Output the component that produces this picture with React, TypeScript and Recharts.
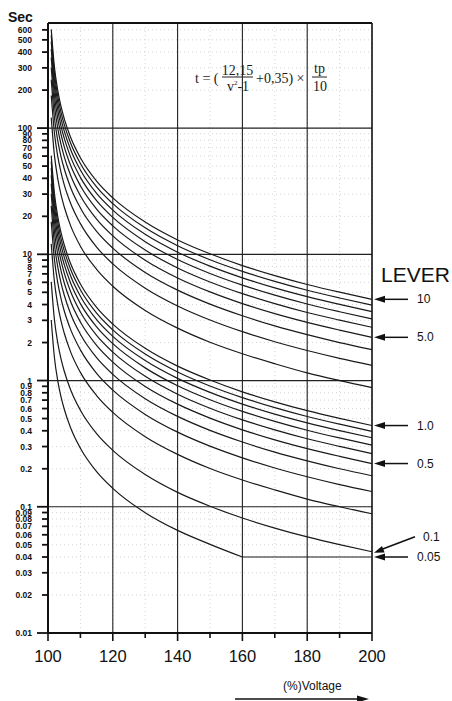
import React from 'react'
import {
  LineChart,
  Line,
  XAxis,
  YAxis,
  CartesianGrid,
  ReferenceLine,
  ReferenceDot,
} from 'recharts'

// voltage in % of setting
const voltage = [101, 102, 103, 104, 105, 107, 110, 115, 120, 130, 140, 150, 160, 170, 180, 190, 200]

// operating time (s) per lever position
const lever10 = [605, 301, 200, 149, 119, 84.2, 58.2, 38.0, 28.0, 18.0, 13.0, 10.1, 8.14, 6.78, 5.77, 5.01, 4.4]
const lever9 = [544, 271, 180, 134, 107, 75.8, 52.4, 34.2, 25.2, 16.2, 11.7, 9.06, 7.33, 6.1, 5.19, 4.51, 3.96]
const lever8 = [484, 241, 160, 119, 95.1, 67.4, 46.6, 30.4, 22.4, 14.4, 10.4, 8.06, 6.51, 5.42, 4.62, 4.01, 3.52]
const lever7 = [423, 211, 140, 104, 83.2, 58.9, 40.7, 26.6, 19.6, 12.6, 9.1, 7.05, 5.7, 4.75, 4.04, 3.51, 3.08]
const lever6 = [363, 181, 120, 89.5, 71.3, 50.5, 34.9, 22.8, 16.8, 10.8, 7.8, 6.04, 4.88, 4.07, 3.46, 3.01, 2.64]
const lever5 = [302, 151, 100, 74.6, 59.5, 42.1, 29.1, 19.0, 14.0, 8.98, 6.5, 5.04, 4.07, 3.39, 2.89, 2.51, 2.2]
const lever4 = [242, 120, 80.0, 59.7, 47.6, 33.7, 23.3, 15.2, 11.2, 7.18, 5.2, 4.03, 3.26, 2.71, 2.31, 2.0, 1.76]
const lever3 = [181, 90.3, 60.0, 44.8, 35.7, 25.3, 17.5, 11.4, 8.39, 5.39, 3.9, 3.02, 2.44, 2.03, 1.73, 1.5, 1.32]
const lever2 = [121, 60.2, 40.0, 29.8, 23.8, 16.8, 11.6, 7.6, 5.59, 3.59, 2.6, 2.01, 1.63, 1.36, 1.15, 1.0, 0.88]
const lever1 = [60.5, 30.1, 20.0, 14.9, 11.9, 8.42, 5.82, 3.8, 2.8, 1.8, 1.3, 1.01, 0.814, 0.678, 0.577, 0.501, 0.44]
const lever09 = [54.4, 27.1, 18.0, 13.4, 10.7, 7.58, 5.24, 3.42, 2.52, 1.62, 1.17, 0.906, 0.733, 0.61, 0.519, 0.451, 0.396]
const lever08 = [48.4, 24.1, 16.0, 11.9, 9.51, 6.74, 4.66, 3.04, 2.24, 1.44, 1.04, 0.806, 0.651, 0.542, 0.462, 0.401, 0.352]
const lever07 = [42.3, 21.1, 14.0, 10.4, 8.32, 5.89, 4.07, 2.66, 1.96, 1.26, 0.91, 0.705, 0.57, 0.475, 0.404, 0.351, 0.308]
const lever06 = [36.3, 18.1, 12.0, 8.95, 7.13, 5.05, 3.49, 2.28, 1.68, 1.08, 0.78, 0.604, 0.488, 0.407, 0.346, 0.301, 0.264]
const lever05 = [30.2, 15.1, 10.0, 7.46, 5.95, 4.21, 2.91, 1.9, 1.4, 0.898, 0.65, 0.504, 0.407, 0.339, 0.289, 0.251, 0.22]
const lever04 = [24.2, 12.0, 8.0, 5.97, 4.76, 3.37, 2.33, 1.52, 1.12, 0.718, 0.52, 0.403, 0.326, 0.271, 0.231, 0.2, 0.176]
const lever03 = [18.1, 9.03, 6.0, 4.48, 3.57, 2.53, 1.75, 1.14, 0.839, 0.539, 0.39, 0.302, 0.244, 0.203, 0.173, 0.15, 0.132]
const lever02 = [12.1, 6.02, 4.0, 2.98, 2.38, 1.68, 1.16, 0.76, 0.559, 0.359, 0.26, 0.201, 0.163, 0.136, 0.115, 0.1, 0.088]
const lever01 = [6.05, 3.01, 2.0, 1.49, 1.19, 0.842, 0.582, 0.38, 0.28, 0.18, 0.13, 0.101, 0.0814, 0.0678, 0.0577, 0.0501, 0.044]
// lever 0.05: curved part down to 160 %, then held at the 0.04 s minimum
const lever005 = [3.02, 1.51, 1.0, 0.746, 0.595, 0.421, 0.291, 0.19, 0.14, 0.0898, 0.065, 0.0504, 0.04, null, null, null, null]
const minTime = [null, null, null, null, null, null, null, null, null, null, null, null, 0.04, 0.04, 0.04, 0.04, 0.04]

const series = [
  lever10, lever9, lever8, lever7, lever6, lever5, lever4, lever3, lever2, lever1,
  lever09, lever08, lever07, lever06, lever05, lever04, lever03, lever02, lever01, lever005,
]

const arrowLevers = [
  { label: '10', values: lever10 },
  { label: '5.0', values: lever5 },
  { label: '1.0', values: lever1 },
  { label: '0.5', values: lever05 },
  { label: '0.1', values: lever01, slant: true },
  { label: '0.05', values: minTime },
]

const xTicks = [100, 110, 120, 130, 140, 150, 160, 170, 180, 190, 200]
const xMajor = [120, 140, 160, 180]
const yTicks = [
  600, 500, 400, 300, 200, 100, 90, 80, 70, 60, 50, 40, 30, 20,
  10, 9, 8, 7, 6, 5, 4, 3, 2, 1, 0.9, 0.8, 0.7, 0.6, 0.5, 0.4, 0.3, 0.2,
  0.1, 0.09, 0.08, 0.07, 0.06, 0.05, 0.04, 0.03, 0.02, 0.01,
]
const yMajor = [100, 10, 1, 0.1]

const rows = voltage.map((v, i) => {
  const row: Record<string, number | null> = { v, floor: minTime[i] }
  series.forEach((s, k) => {
    row[`s${k}`] = s[i]
  })
  return row
})

const FONT = '"Liberation Sans", Arial, sans-serif'
const SERIF = '"Liberation Serif", "Times New Roman", serif'

function XTick(props: any) {
  const { x, y, payload } = props
  const big = payload.value % 20 === 0
  return (
    <g>
      <line x1={x} x2={x} y1={y} y2={y + (big ? 8 : 5)} stroke="#111" strokeWidth={1.6} />
      {big && (
        <text x={x} y={y + 29} textAnchor="middle" fontSize={16.5} fontFamily={FONT} fill="#111">
          {payload.value}
        </text>
      )}
    </g>
  )
}

function YTick(props: any) {
  const { x, y, payload } = props
  const lg = Math.log10(payload.value)
  const decade = Math.abs(lg - Math.round(lg)) < 1e-9
  return (
    <g>
      <line x1={x - (decade ? 11 : 6)} x2={x} y1={y} y2={y} stroke="#111" strokeWidth={1.8} />
      <text x={x - 16} y={y} dy="0.35em" textAnchor="end" fontSize={8.5} fontWeight="bold" fontFamily={FONT} fill="#111">
        {String(payload.value)}
      </text>
    </g>
  )
}

function LeverArrow({ cx, cy, label, slant }: { cx: number; cy: number; label: string; slant?: boolean }) {
  if (slant) {
    return (
      <g>
        <line x1={cx + 10} y1={cy - 2.5} x2={cx + 43} y2={cy - 15} stroke="#111" strokeWidth={1.5} />
        <polygon points={`${cx + 2},${cy + 1} ${cx + 12.6},${cy + 0.7} ${cx + 10},${cy - 5.9}`} fill="#111" />
        <text x={cx + 51} y={cy - 11} fontSize={12} fontFamily={FONT} fill="#111">
          {label}
        </text>
      </g>
    )
  }
  return (
    <g>
      <line x1={cx + 12} y1={cy} x2={cx + 36} y2={cy} stroke="#111" strokeWidth={1.5} />
      <polygon points={`${cx + 2},${cy} ${cx + 13},${cy - 3.5} ${cx + 13},${cy + 3.5}`} fill="#111" />
      <text x={cx + 45} y={cy + 4} fontSize={12} fontFamily={FONT} fill="#111">
        {label}
      </text>
    </g>
  )
}

export default function App() {
  return (
    <div style={{ position: 'absolute', left: 0, top: 0, width: 452, height: 701, background: '#fff' }}>
      <LineChart width={452} height={701} data={rows} margin={{ top: 23, right: 80, bottom: 0, left: 0 }}>
        <CartesianGrid stroke="#d4d4d4" strokeDasharray="1 3" />
        <XAxis
          dataKey="v"
          type="number"
          domain={[100, 200]}
          ticks={xTicks}
          interval={0}
          height={68}
          tickSize={0}
          tickMargin={0}
          tickLine={false}
          axisLine={{ stroke: '#111', strokeWidth: 2 }}
          tick={(p: any) => <XTick {...p} />}
        />
        <YAxis
          type="number"
          scale="log"
          domain={[0.01, 680]}
          ticks={yTicks}
          interval={0}
          width={48}
          tickSize={0}
          tickMargin={0}
          tickLine={false}
          axisLine={{ stroke: '#111', strokeWidth: 2 }}
          tick={(p: any) => <YTick {...p} />}
        />
        {yMajor.map((y) => (
          <ReferenceLine key={`y${y}`} y={y} stroke="#222" strokeWidth={1.2} />
        ))}
        {xMajor.map((x) => (
          <ReferenceLine key={`x${x}`} x={x} stroke="#222" strokeWidth={1.1} />
        ))}
        <ReferenceLine y={680} stroke="#111" strokeWidth={2} />
        <ReferenceLine x={200} stroke="#111" strokeWidth={1.6} />
        {series.map((_, k) => (
          <Line
            key={k}
            type="monotone"
            dataKey={`s${k}`}
            stroke="#1a1a1a"
            strokeWidth={1.2}
            dot={false}
            activeDot={false}
            isAnimationActive={false}
          />
        ))}
        <Line
          type="linear"
          dataKey="floor"
          stroke="#1a1a1a"
          strokeWidth={1.2}
          dot={false}
          activeDot={false}
          isAnimationActive={false}
        />
        {arrowLevers.map((a) => (
          <ReferenceDot
            key={a.label}
            x={200}
            y={a.values[a.values.length - 1] as number}
            r={0}
            shape={(p: any) => <LeverArrow cx={p.cx} cy={p.cy} label={a.label} slant={a.slant} />}
          />
        ))}
      </LineChart>
      <svg width={452} height={701} style={{ position: 'absolute', left: 0, top: 0, pointerEvents: 'none' }}>
        <text x={8} y={22} fontSize={14} fontWeight="bold" fontFamily={FONT} fill="#111">Sec</text>
        <g fontFamily={SERIF} fontSize={14} fill="#1a1a1a">
          <text x={195} y={83}>t = (</text>
          <text x={237.5} y={74.5} textAnchor="middle">12,15</text>
          <line x1={222} x2={253} y1={77} y2={77} stroke="#222" strokeWidth={1} />
          <text x={238} y={90.5} textAnchor="middle">
            v<tspan fontSize={7} dy={-6}>2</tspan>
            <tspan dy={6}>-1</tspan>
          </text>
          <text x={256} y={83}>+0,35) ×</text>
          <text x={319.5} y={72.5} textAnchor="middle">tp</text>
          <line x1={312} x2={327} y1={77} y2={77} stroke="#222" strokeWidth={1} />
          <text x={320} y={90.5} textAnchor="middle">10</text>
        </g>
        <text x={381} y={282} fontSize={21} fontFamily={FONT} fill="#111">LEVER</text>
        <text x={283} y={690} fontSize={12} fontFamily={FONT} fill="#111">(%)Voltage</text>
        <line x1={235} x2={360} y1={699} y2={699} stroke="#111" strokeWidth={1.5} />
        <polygon points="357,695.5 369,699 357,702.5" fill="#111" />
      </svg>
    </div>
  )
}
